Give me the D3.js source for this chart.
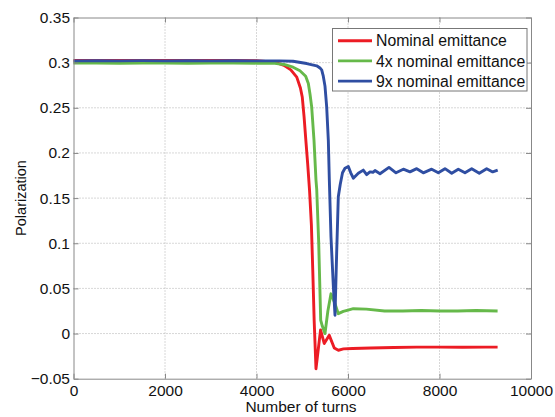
<!DOCTYPE html>
<html>
<head>
<meta charset="utf-8">
<script src="https://cdn.jsdelivr.net/npm/d3@7"></script>
<style>
  body { margin: 0; background: #fff; }
  svg { display: block; font-family: "Liberation Sans", Arial, Helvetica, sans-serif; }
</style>
</head>
<body>
<svg id="chart" width="555" height="417"></svg>
<script>
// data
var redTurns = [0, 500, 1000, 1500, 2000, 2500, 3000, 3500, 4000, 4400, 4600, 4750, 4880, 4960, 5000, 5040, 5080, 5120, 5160, 5200, 5230, 5260, 5300, 5400, 5480, 5590, 5700, 5790, 5900, 6100, 6500, 7000, 7500, 8000, 8500, 9000, 9270];
var redPol = [0.3025, 0.3025, 0.3024, 0.3025, 0.3025, 0.3024, 0.3025, 0.3024, 0.3022, 0.3005, 0.297, 0.292, 0.284, 0.272, 0.262, 0.24, 0.213, 0.187, 0.158, 0.12, 0.07, 0.015, -0.039, 0.004, -0.011, -0.002, -0.016, -0.0185, -0.017, -0.0165, -0.016, -0.0155, -0.015, -0.015, -0.0152, -0.015, -0.015];

var greenTurns = [0, 500, 1000, 1500, 2000, 2500, 3000, 3500, 4000, 4400, 4600, 4800, 4950, 5075, 5133, 5170, 5206, 5257, 5300, 5316, 5360, 5403, 5440, 5497, 5560, 5628, 5716, 5788, 5897, 6000, 6116, 6400, 6800, 7200, 7600, 8000, 8400, 8800, 9270];
var greenPol = [0.2995, 0.2995, 0.2994, 0.2996, 0.2995, 0.2994, 0.2995, 0.2996, 0.2994, 0.2992, 0.298, 0.295, 0.291, 0.285, 0.277, 0.265, 0.251, 0.214, 0.17, 0.16, 0.1, 0.015, 0.008, 0.0, 0.025, 0.044, 0.033, 0.022, 0.0245, 0.026, 0.0275, 0.027, 0.025, 0.025, 0.0255, 0.025, 0.025, 0.0255, 0.025];

var blueTurns = [0, 500, 1000, 1500, 2000, 2500, 3000, 3500, 4000, 4500, 4800, 5097, 5316, 5388, 5425, 5460, 5497, 5534, 5570, 5592, 5628, 5680, 5716, 5752, 5788, 5830, 5880, 5934, 6007, 6060, 6116, 6225, 6334, 6408, 6480, 6545, 6590, 6699, 6896, 7049, 7209, 7355, 7502, 7646, 7829, 7974, 8120, 8267, 8411, 8557, 8704, 8870, 9031, 9163, 9272];
var bluePol = [0.302, 0.3021, 0.302, 0.3022, 0.302, 0.3021, 0.302, 0.3021, 0.302, 0.302, 0.3015, 0.299, 0.2965, 0.294, 0.292, 0.285, 0.274, 0.251, 0.214, 0.17, 0.107, 0.052, 0.0203, 0.0888, 0.1515, 0.165, 0.178, 0.183, 0.185, 0.178, 0.172, 0.1775, 0.181, 0.176, 0.179, 0.1786, 0.1805, 0.177, 0.184, 0.178, 0.182, 0.179, 0.1826, 0.178, 0.182, 0.178, 0.1826, 0.1775, 0.182, 0.178, 0.1826, 0.1775, 0.1826, 0.179, 0.181];

var seriesNames = ["Nominal emittance", "4x nominal emittance", "9x nominal emittance"];
var xTicks = [0, 2000, 4000, 6000, 8000, 10000];
var yTicks = [-0.05, 0, 0.05, 0.1, 0.15, 0.2, 0.25, 0.3, 0.35];

var colors = ["#ec1c24", "#66b94a", "#2f4ea2"];
var series = [
    {name: seriesNames[0], turns: redTurns, pol: redPol},
    {name: seriesNames[1], turns: greenTurns, pol: greenPol},
    {name: seriesNames[2], turns: blueTurns, pol: bluePol}
];

var margin = {top: 17.5, right: 24, bottom: 38.3, left: 73.5},
    width = 555 - margin.left - margin.right,
    height = 417 - margin.top - margin.bottom;

var svg = d3.select("#chart");
var g = svg.append("g").attr("transform", "translate(" + margin.left + "," + margin.top + ")");

var x = d3.scaleLinear().domain([0, 10000]).range([0, width]);
var y = d3.scaleLinear().domain([-0.05, 0.35]).range([height, 0]);

// grid
g.append("g").selectAll("line").data(xTicks.slice(1, -1)).join("line")
    .attr("x1", d => x(d)).attr("x2", d => x(d))
    .attr("y1", 0).attr("y2", height)
    .attr("stroke", "#b0b0b0").attr("stroke-dasharray", "1,2");
g.append("g").selectAll("line").data(yTicks.slice(1, -1)).join("line")
    .attr("x1", 0).attr("x2", width)
    .attr("y1", d => y(d)).attr("y2", d => y(d))
    .attr("stroke", "#b0b0b0").attr("stroke-dasharray", "1,2");

// lines
var line = d3.line().x(d => x(d[0])).y(d => y(d[1]));
series.forEach(function(s, i) {
    g.append("path")
        .datum(d3.zip(s.turns, s.pol))
        .attr("fill", "none")
        .attr("stroke", colors[i])
        .attr("stroke-width", 2.9)
        .attr("stroke-linejoin", "round")
        .attr("d", line);
});

// axes (ticks pointing inward, box on)
function styleAxis(sel) {
    sel.select(".domain").attr("stroke", "#888");
    sel.selectAll(".tick line").attr("stroke", "#888");
    sel.selectAll(".tick text").attr("fill", "#111").attr("font-size", 15.5);
}
g.append("g").attr("transform", "translate(0," + height + ")")
    .call(d3.axisBottom(x).tickValues(xTicks).tickSizeInner(-5).tickSizeOuter(0).tickPadding(6).tickFormat(d3.format("d")))
    .call(styleAxis);
g.append("g")
    .call(d3.axisLeft(y).tickValues(yTicks).tickSizeInner(-5).tickSizeOuter(0).tickPadding(3.5).tickFormat(d => d === 0 ? "0" : d3.format("")(+d.toFixed(2))))
    .call(styleAxis);
g.append("g")
    .call(d3.axisTop(x).tickValues(xTicks).tickSizeInner(-5).tickSizeOuter(0).tickFormat(""))
    .call(styleAxis);
g.append("g").attr("transform", "translate(" + width + ",0)")
    .call(d3.axisRight(y).tickValues(yTicks).tickSizeInner(-5).tickSizeOuter(0).tickFormat(""))
    .call(styleAxis);

// axis labels
svg.append("text")
    .attr("x", 301).attr("y", 412)
    .attr("text-anchor", "middle").attr("font-size", 15.5).attr("fill", "#111")
    .text("Number of turns");
svg.append("text")
    .attr("transform", "translate(26,198) rotate(-90)")
    .attr("text-anchor", "middle").attr("font-size", 14.5).attr("fill", "#111")
    .text("Polarization");

// legend
var legend = svg.append("g");
legend.append("rect")
    .attr("x", 332.5).attr("y", 28.5).attr("width", 194.5).attr("height", 62.5)
    .attr("fill", "#fff").attr("stroke", "#777");
var rows = legend.selectAll("g.row").data(series).join("g")
    .attr("class", "row")
    .attr("transform", (d, i) => "translate(0," + (40.7 + i * 20.2) + ")");
rows.append("line")
    .attr("x1", 338).attr("x2", 372)
    .attr("stroke", (d, i) => colors[i]).attr("stroke-width", 2.9);
rows.append("text")
    .attr("x", 376).attr("y", 5.6)
    .attr("font-size", 15.8).attr("fill", "#111")
    .text(d => d.name);
</script>
</body>
</html>
